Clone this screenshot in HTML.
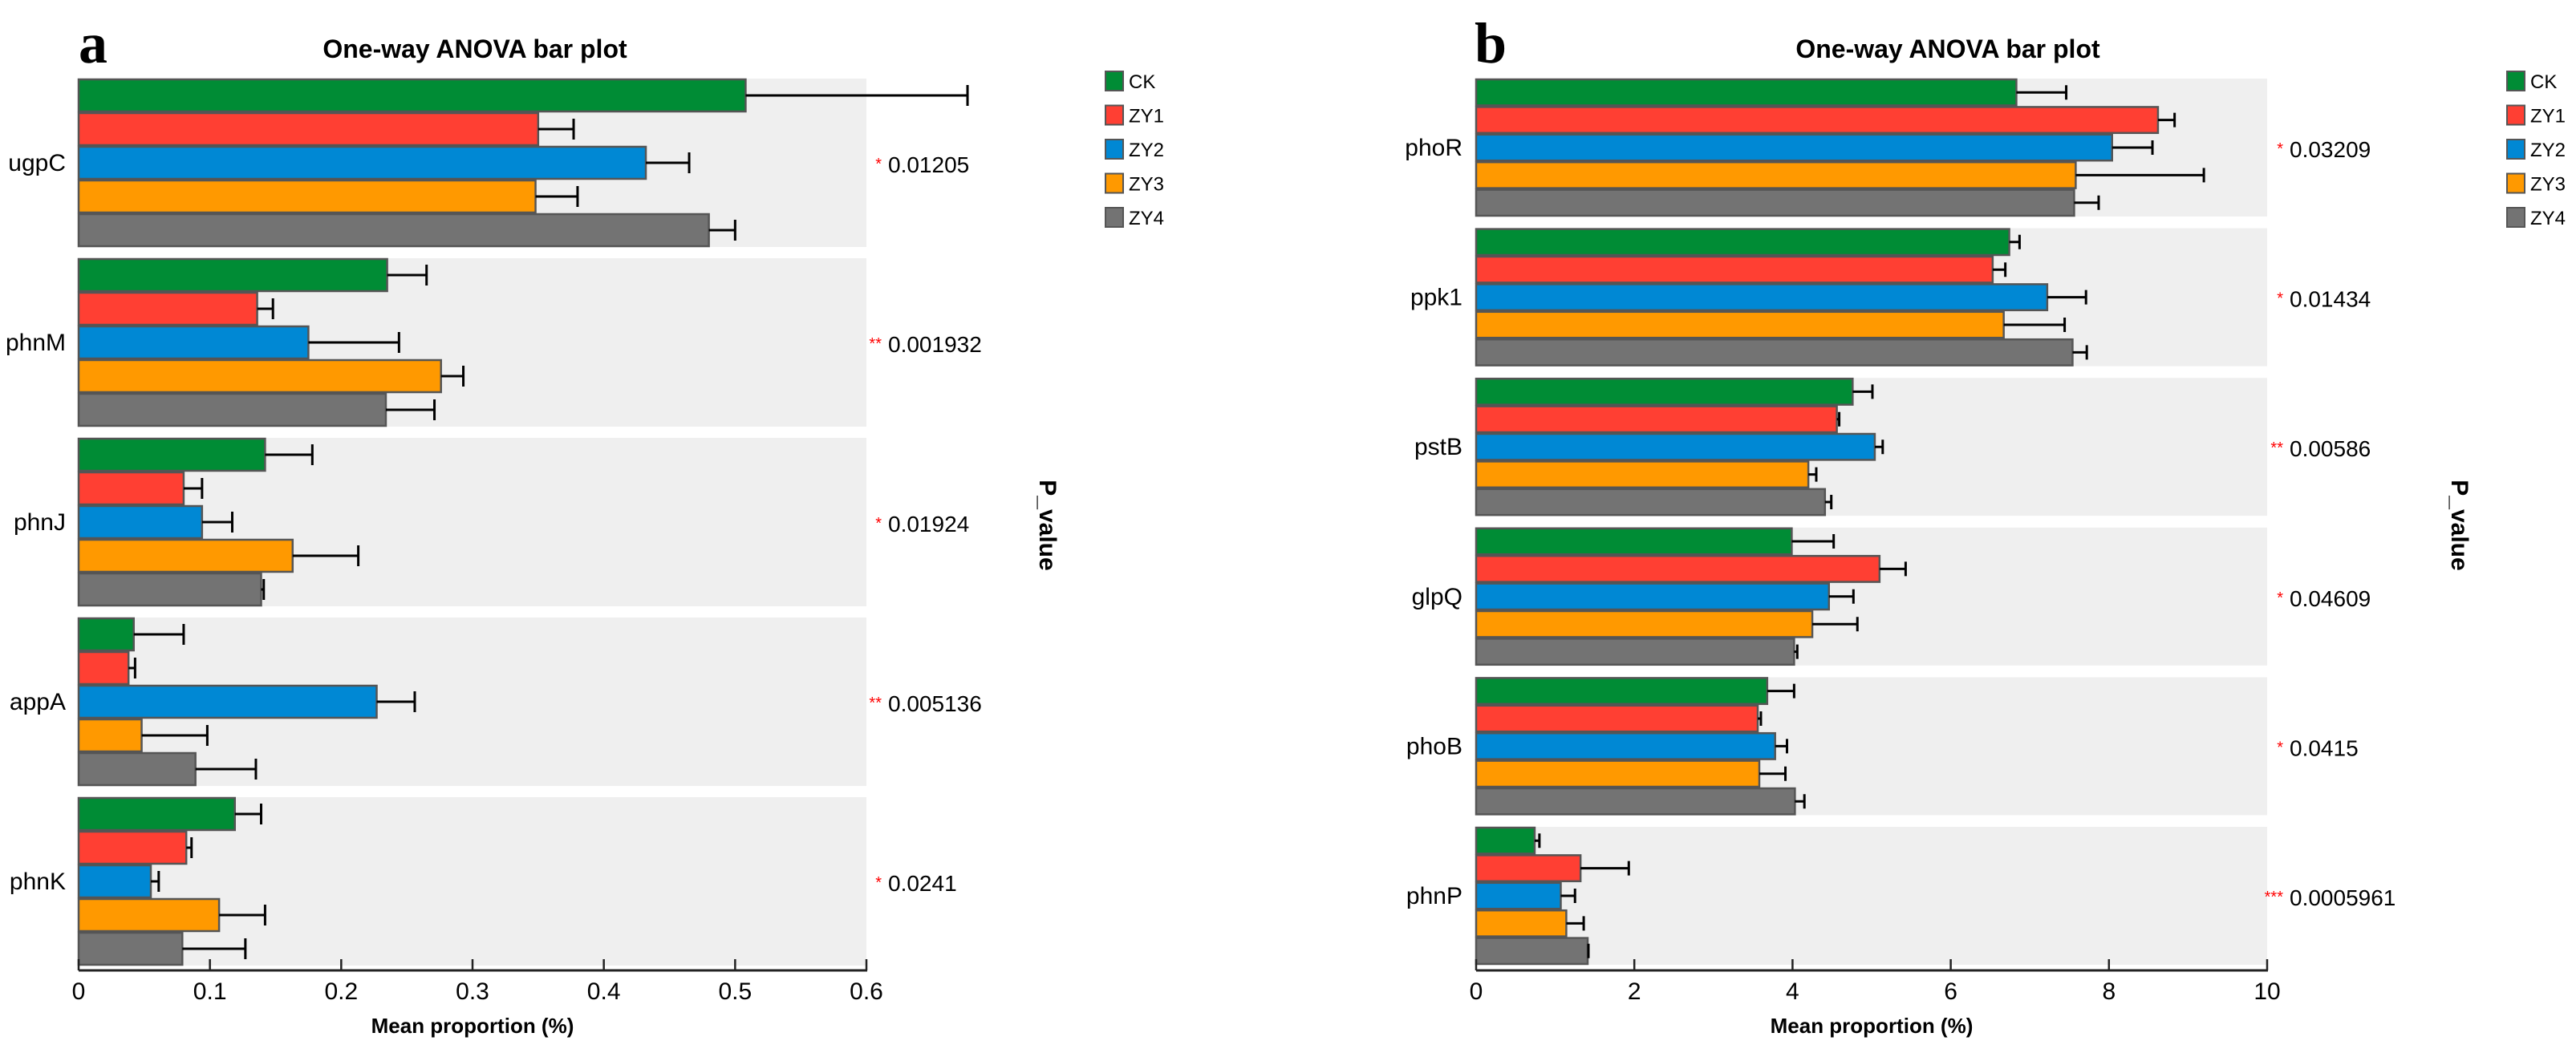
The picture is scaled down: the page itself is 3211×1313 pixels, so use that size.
<!DOCTYPE html>
<html><head><meta charset="utf-8"><style>
body{margin:0;background:#fff}
svg{display:block}
text{font-family:"Liberation Sans Narrow","Liberation Sans",sans-serif}
</style></head><body>
<svg id="chart" width="3211" height="1313" viewBox="0 0 3211 1313" xmlns="http://www.w3.org/2000/svg">
<g id="pa"></g>
<g id="pb"></g>
</svg>
<script>
const seriesNames = ["CK","ZY1","ZY2","ZY3","ZY4"];
const seriesColors = ["#008c35","#ff3f33","#0088d4","#ff9900","#737373"];

const genesA = ["ugpC","phnM","phnJ","appA","phnK"];
const meansA = [
  [0.508,0.350,0.432,0.348,0.480],
  [0.235,0.136,0.175,0.276,0.234],
  [0.142,0.080,0.094,0.163,0.139],
  [0.042,0.038,0.227,0.048,0.089],
  [0.119,0.082,0.055,0.107,0.079]];
const errA = [
  [0.169,0.027,0.033,0.032,0.020],
  [0.030,0.012,0.069,0.017,0.037],
  [0.036,0.014,0.023,0.050,0.002],
  [0.038,0.005,0.029,0.050,0.046],
  [0.020,0.004,0.006,0.035,0.048]];
const pvalA = ["0.01205","0.001932","0.01924","0.005136","0.0241"];
const starsA = ["*","**","*","**","*"];
const ticksA = [0,0.1,0.2,0.3,0.4,0.5,0.6];

const genesB = ["phoR","ppk1","pstB","glpQ","phoB","phnP"];
const meansB = [
  [6.83,8.62,8.04,7.58,7.56],
  [6.74,6.53,7.22,6.67,7.54],
  [4.76,4.56,5.04,4.20,4.41],
  [3.99,5.10,4.46,4.25,4.02],
  [3.68,3.56,3.78,3.58,4.03],
  [0.74,1.32,1.07,1.14,1.41]];
const errB = [
  [0.63,0.21,0.51,1.62,0.31],
  [0.13,0.16,0.49,0.77,0.18],
  [0.25,0.03,0.10,0.10,0.08],
  [0.53,0.33,0.31,0.57,0.04],
  [0.34,0.04,0.15,0.33,0.12],
  [0.06,0.61,0.18,0.22,0.01]];
const pvalB = ["0.03209","0.01434","0.00586","0.04609","0.0415","0.0005961"];
const starsB = ["*","*","**","*","*","***"];
const ticksB = [0,2,4,6,8,10];

const NS="http://www.w3.org/2000/svg";
function mk(parent,tag,attrs,txt){const e=document.createElementNS(NS,tag);for(const k in attrs)e.setAttribute(k,attrs[k]);if(txt!==undefined)e.textContent=txt;parent.appendChild(e);return e;}

function panel(g,cfg){
  const {genes,means,errs,pvals,stars,ticks,x0,x1,vmax,top,period,gh,letter,letterX,titleX,legX,pvX,labX,pLabelX,capH,fmt}=cfg;
  const sx=v=>x0+(x1-x0)*v/vmax;
  const bh=gh/5;
  let t=mk(g,'text',{x:letterX,y:78,'font-size':72,'font-weight':'bold',style:'font-family:"Liberation Serif",serif'},letter);
  
  
  t=mk(g,'text',{x:titleX,y:72,'font-size':32,'font-weight':'bold','text-anchor':'middle',style:'font-family:"Liberation Sans",sans-serif'},'One-way ANOVA bar plot');
  
  
  genes.forEach((gn,i)=>{
    const gy=top+i*period;
    const grp=mk(g,'g',{});
    
    
    const bg=mk(grp,'rect',{x:x0,y:gy,width:x1-x0,height:gh,fill:'#efefef'});
    
    
    means[i].forEach((v,j)=>{
      const y=gy+j*bh;
      const r=mk(grp,'rect',{x:x0,y:y+1,width:sx(v)-x0,height:bh-2,fill:seriesColors[j],stroke:'#555',"stroke-width":2.5});
      
      
      const ex=sx(v+errs[i][j]),cy=y+bh/2;
      const eb=mk(grp,'path',{d:`M${sx(v)},${cy}H${ex}M${ex},${cy-capH/2}V${cy+capH/2}`,stroke:'#000','stroke-width':3,fill:'none'});
      
      
    });
    const lab=mk(grp,'text',{x:labX,y:gy+gh/2+10,'font-size':30,'text-anchor':'end'},gn);
    
    
    const st=mk(grp,'text',{x:pvX-8,y:gy+gh/2+8,'font-size':20,fill:'#f00','text-anchor':'end'},stars[i]);
    
    
    const pv=mk(grp,'text',{x:pvX,y:gy+gh/2+12,'font-size':28},pvals[i]);
    
    
  });
  const ay=1210;
  const ax=mk(g,'g',{});
  
  
  mk(ax,'line',{x1:x0,x2:x1+1,y1:ay,y2:ay,stroke:'#222','stroke-width':3});
  ticks.forEach(v=>{
    mk(ax,'line',{x1:sx(v),x2:sx(v),y1:ay,y2:ay-14,stroke:'#222','stroke-width':2.5});
    const tl=mk(ax,'text',{x:sx(v),y:ay+36,'font-size':30,'text-anchor':'middle'},fmt(v));
    
    
  });
  t=mk(g,'text',{x:(x0+x1)/2,y:1288,'font-size':26,'font-weight':'bold','text-anchor':'middle',style:'font-family:"Liberation Sans",sans-serif'},'Mean proportion (%)');
  
  
  t=mk(g,'text',{x:pLabelX,y:655,'font-size':30,'font-weight':'bold','text-anchor':'middle',style:'font-family:"Liberation Sans",sans-serif',transform:`rotate(90 ${pLabelX} 655)`},'P_value');
  
  
  const lg=mk(g,'g',{});
  
  
  seriesNames.forEach((n,j)=>{
    const ly=89+j*42.5;
    const e=mk(lg,'g',{});
    
    
    mk(e,'rect',{x:legX,y:ly,width:22,height:24,fill:seriesColors[j],stroke:'#555','stroke-width':2});
    mk(e,'text',{x:legX+29,y:ly+21,'font-size':24},n);
  });
}
panel(document.getElementById('pa'),{genes:genesA,means:meansA,errs:errA,pvals:pvalA,stars:starsA,ticks:ticksA,
  x0:98,x1:1080,vmax:0.6,top:98,period:224,gh:210,letter:'a',letterX:98,titleX:592,legX:1378,pvX:1107,labX:82,pLabelX:1296,capH:26,fmt:v=>String(v)});
panel(document.getElementById('pb'),{genes:genesB,means:meansB,errs:errB,pvals:pvalB,stars:starsB,ticks:ticksB,
  x0:1840,x1:2826,vmax:10,top:98,period:186.6,gh:172,letter:'b',letterX:1838,titleX:2428,legX:3125,pvX:2854,labX:1823,pLabelX:3056,capH:18,fmt:v=>String(v)});
</script>
</body></html>
